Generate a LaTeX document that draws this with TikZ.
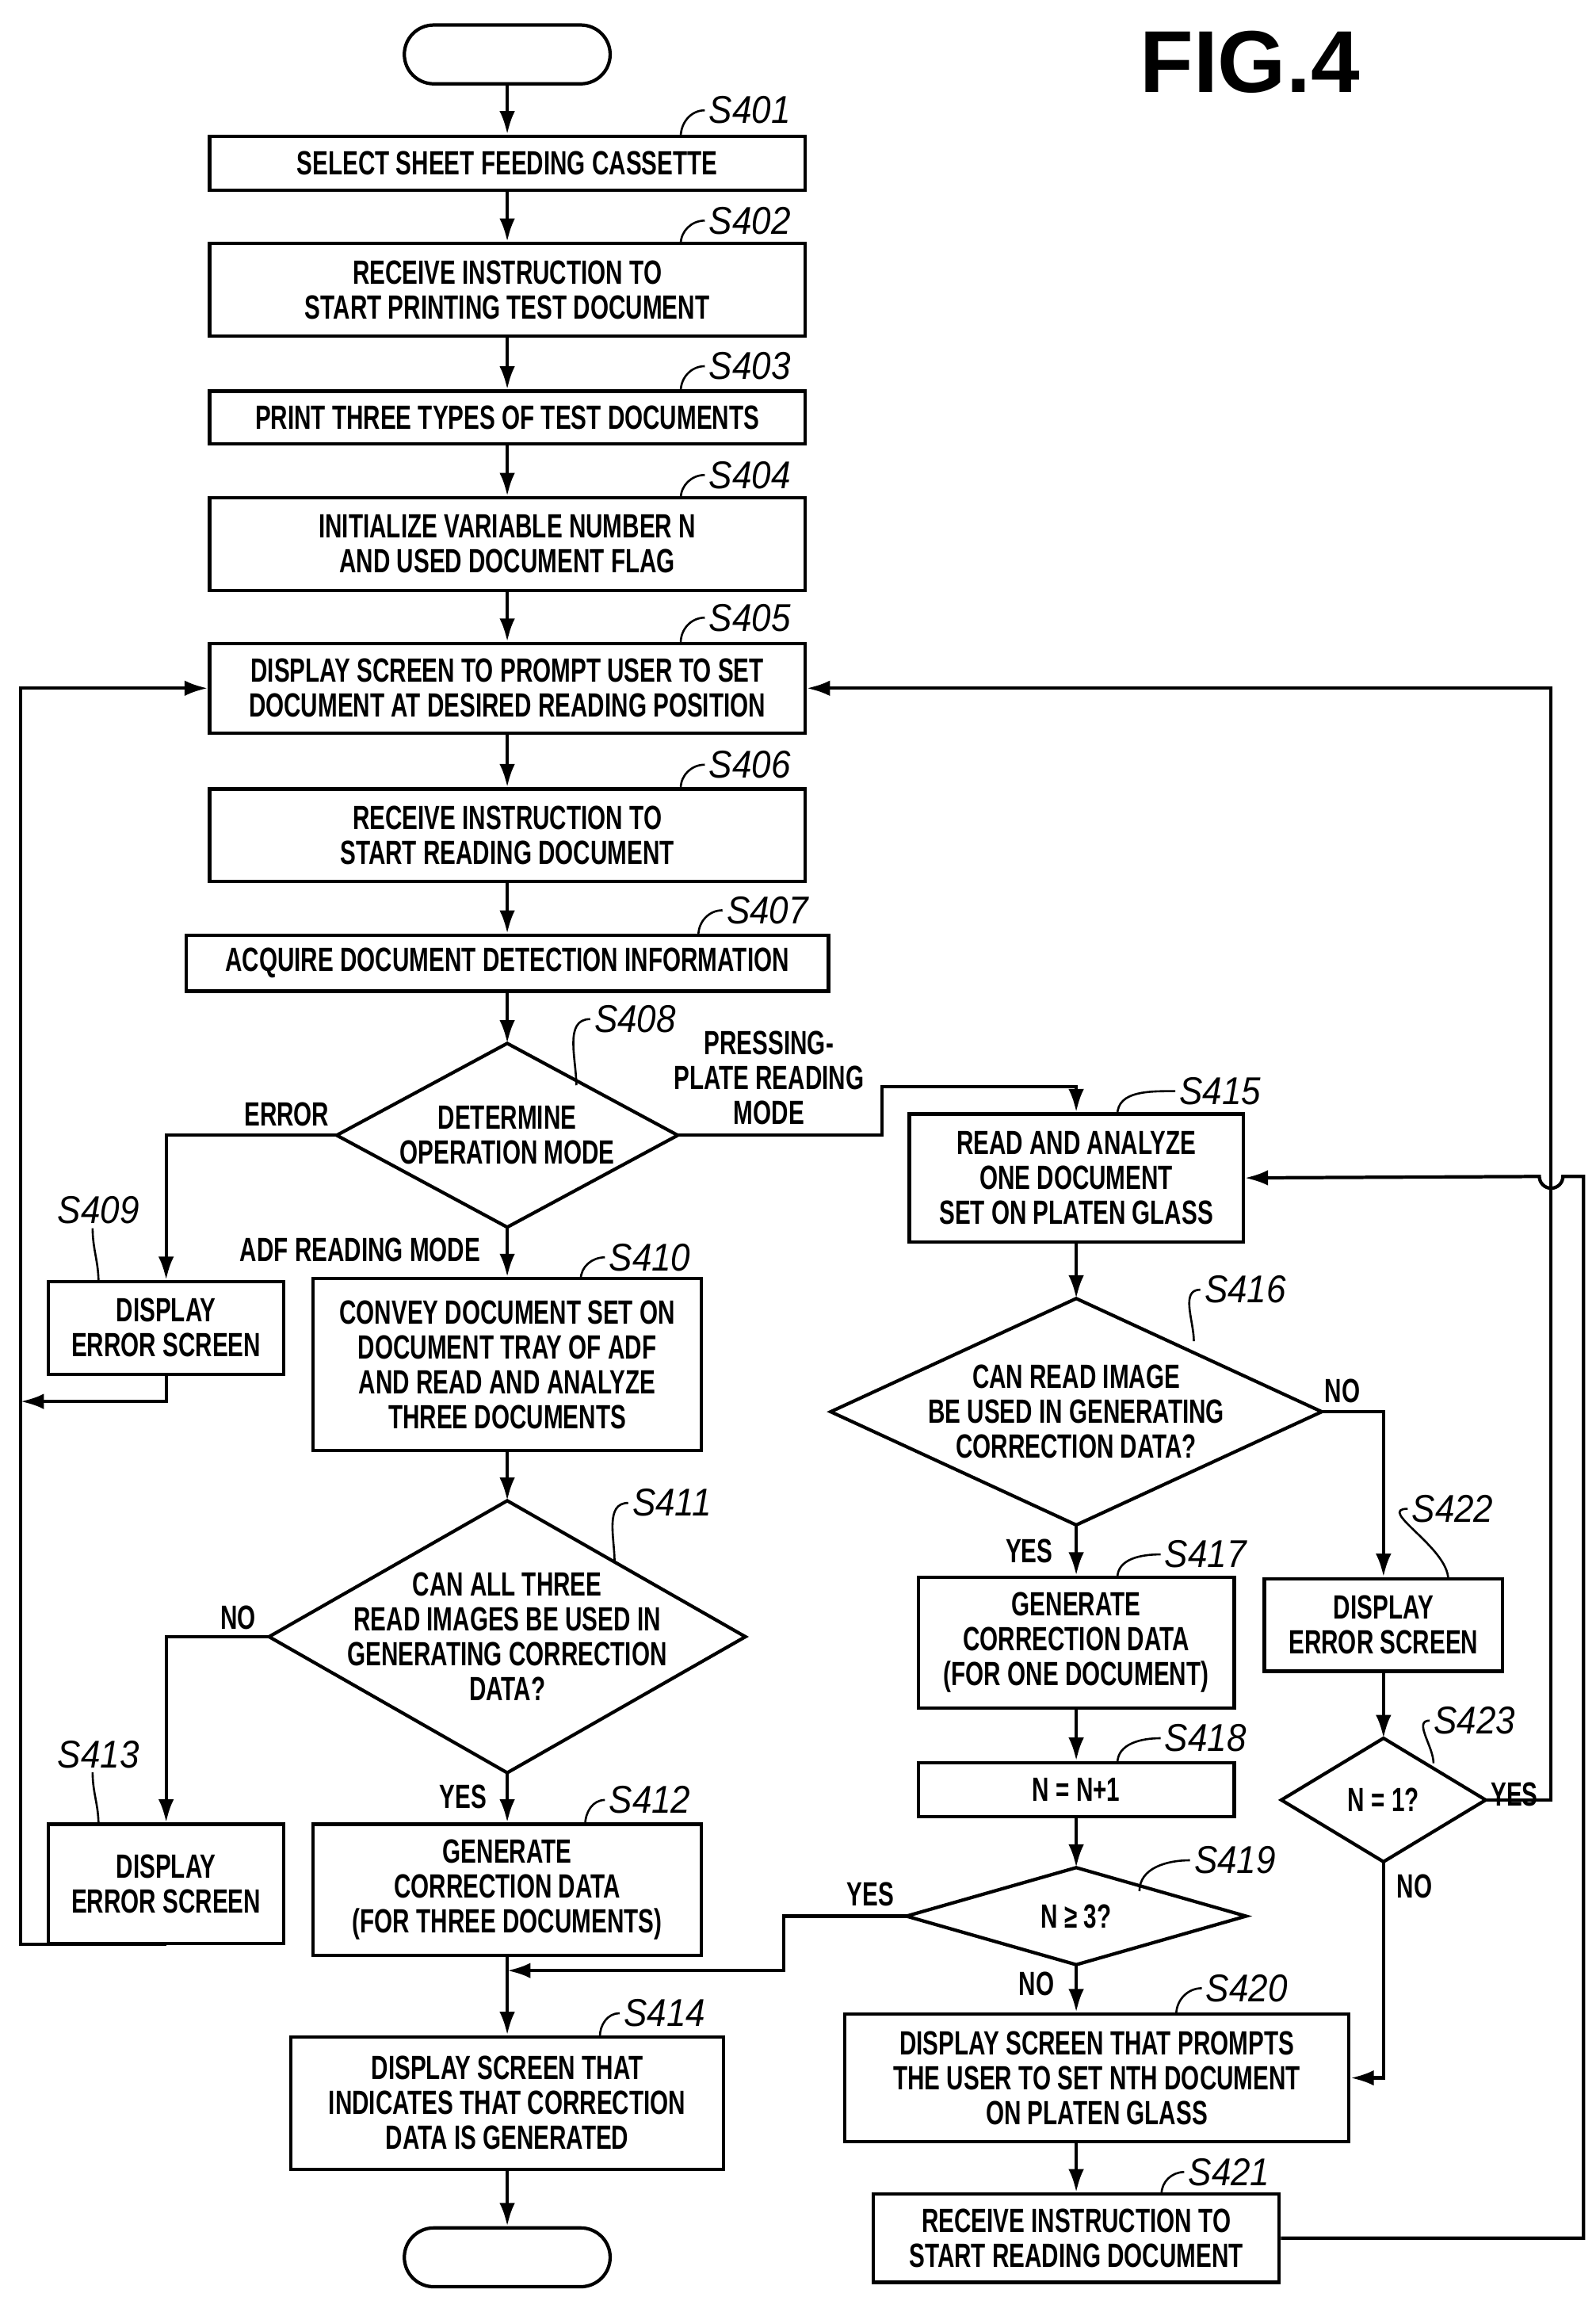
\documentclass[tikz,border=0pt]{standalone}
\usepackage{fontspec}
\usetikzlibrary{arrows.meta}
\setmainfont{Liberation Sans}
\newfontfamily\boxfont[FakeStretch=0.7]{Liberation Sans}
\newfontfamily\lblfont[FakeStretch=0.9]{Liberation Sans}
\begin{document}
\begin{tikzpicture}[x=0.02cm,y=-0.02cm,line width=1.3pt,
  box/.style={draw,inner sep=0pt,align=center,font=\boxfont\bfseries\fontsize{13}{13.5}\selectfont},
  txt/.style={inner sep=0pt,align=center,font=\boxfont\bfseries\fontsize{13}{13.5}\selectfont},
  lbl/.style={inner sep=1pt,font=\lblfont\itshape\fontsize{15}{15}\selectfont},
  arr/.style={-{Latex[length=9pt,width=6pt]}}]
\useasboundingbox (0,0) rectangle (1085,1562);
\newcommand\bx[6]{\node[box,minimum width=#4*0.02cm,minimum height=#5*0.02cm] (#1) at (#2,#3) {#6};}
\newcommand\dm[6]{\draw (#2-#4/2,#3) coordinate (#1W) -- (#2,#3-#5/2) coordinate (#1N) -- (#2+#4/2,#3) coordinate (#1E) -- (#2,#3+#5/2) coordinate (#1S) -- cycle; \node[txt] (#1) at (#2,#3) {#6};}
\newcommand\lb[5]{\node[lbl] (#1) at (#2,#3) {#1}; \draw[line width=0.8pt] (#4,#5) to[out=90,in=180] (#1.west);}
\node[font=\bfseries\fontsize{34}{34}\selectfont] at (850,42) {FIG.4};
\node[draw,rounded corners=20*0.02cm,minimum width=140*0.02cm,minimum height=40*0.02cm] (st) at (345,37) {};
\node[draw,rounded corners=20*0.02cm,minimum width=140*0.02cm,minimum height=40*0.02cm] (en) at (345,1535) {};
\bx{s401}{345}{111}{405}{37}{SELECT SHEET FEEDING CASSETTE}
\bx{s402}{345}{197}{405}{63}{RECEIVE INSTRUCTION TO\\START PRINTING TEST DOCUMENT}
\bx{s403}{345}{284}{405}{36}{PRINT THREE TYPES OF TEST DOCUMENTS}
\bx{s404}{345}{370}{405}{63}{INITIALIZE VARIABLE NUMBER N\\AND USED DOCUMENT FLAG}
\bx{s405}{345}{468}{405}{61}{DISPLAY SCREEN TO PROMPT USER TO SET\\DOCUMENT AT DESIRED READING POSITION}
\bx{s406}{345}{568}{405}{63}{RECEIVE INSTRUCTION TO\\START READING DOCUMENT}
\bx{s407}{345}{655}{437}{38}{ACQUIRE DOCUMENT DETECTION INFORMATION}
\dm{s408}{345}{772}{232}{125}{DETERMINE\\OPERATION MODE}
\bx{s409}{113}{903}{160}{63}{DISPLAY\\ERROR SCREEN}
\bx{s410}{345}{928}{264}{117}{CONVEY DOCUMENT SET ON\\DOCUMENT TRAY OF ADF\\AND READ AND ANALYZE\\THREE DOCUMENTS}
\dm{s411}{345}{1113}{324}{185}{CAN ALL THREE\\READ IMAGES BE USED IN\\GENERATING CORRECTION\\DATA?}
\bx{s412}{345}{1285}{264}{89}{GENERATE\\CORRECTION DATA\\(FOR THREE DOCUMENTS)}
\bx{s413}{113}{1281}{160}{81}{DISPLAY\\ERROR SCREEN}
\bx{s414}{345}{1430}{294}{90}{DISPLAY SCREEN THAT\\INDICATES THAT CORRECTION\\DATA IS GENERATED}
\bx{s415}{732}{801}{227}{87}{READ AND ANALYZE\\ONE DOCUMENT\\SET ON PLATEN GLASS}
\dm{s416}{732}{960}{334}{154}{CAN READ IMAGE\\BE USED IN GENERATING\\CORRECTION DATA?}
\bx{s417}{732}{1117}{215}{89}{GENERATE\\CORRECTION DATA\\(FOR ONE DOCUMENT)}
\bx{s418}{732}{1217}{215}{37}{N = N+1}
\dm{s419}{732}{1303}{231}{66}{N ≥ 3?}
\bx{s420}{746}{1413}{343}{87}{DISPLAY SCREEN THAT PROMPTS\\THE USER TO SET NTH DOCUMENT\\ON PLATEN GLASS}
\bx{s421}{732}{1522}{276}{60}{RECEIVE INSTRUCTION TO\\START READING DOCUMENT}
\bx{s422}{941}{1105}{162}{63}{DISPLAY\\ERROR SCREEN}
\dm{s423}{941}{1224}{139}{84}{N = 1?}
% labels
\lb{S401}{510}{75}{463}{93}
\lb{S402}{510}{150}{463}{166}
\lb{S403}{510}{249}{463}{266}
\lb{S404}{510}{323}{463}{339}
\lb{S405}{510}{420}{463}{437}
\lb{S406}{510}{520}{463}{536}
\lb{S407}{522}{619}{475}{636}
\lb{S408}{432}{693}{392}{738}
\lb{S410}{442}{855}{395}{870}
\lb{S411}{457}{1022}{418}{1062}
\lb{S412}{442}{1224}{398}{1241}
\lb{S414}{452}{1369}{408}{1385}
\lb{S415}{830}{742}{760}{758}
\lb{S416}{847}{877}{812}{912}
\lb{S417}{820}{1057}{760}{1073}
\lb{S418}{820}{1182}{760}{1199}
\lb{S419}{840}{1265}{775}{1286}
\lb{S420}{848}{1352}{800}{1370}
\lb{S421}{836}{1477}{790}{1492}
\lb{S422}{988}{1026}{985}{1074}
\lb{S423}{1003}{1170}{975}{1199}
\node[lbl] (S409) at (67,823) {S409}; \draw[line width=0.8pt] (S409.south) ++(-4,0) to[out=-90,in=90] (67,872);
\node[lbl] (S413) at (67,1193) {S413}; \draw[line width=0.8pt] (S413.south) ++(-4,0) to[out=-90,in=90] (67,1241);
% connectors
\draw[arr] (st) -- (s401);
\draw[arr] (s401) -- (s402);
\draw[arr] (s402) -- (s403);
\draw[arr] (s403) -- (s404);
\draw[arr] (s404) -- (s405);
\draw[arr] (s405) -- (s406);
\draw[arr] (s406) -- (s407);
\draw[arr] (s407) -- (s408N);
\draw[arr] (s408W) -| (s409);
\node[txt] at (195,758) {ERROR};
\draw[arr] (s408E) -- (600,772) -- (600,739) -| (s415);
\node[txt] at (523,733) {PRESSING-\\PLATE READING\\MODE};
\draw[arr] (s408S) -- (s410);
\node[txt] at (245,850) {ADF READING MODE};
\draw[arr] (s410) -- (s411N);
\draw[arr] (s411W) -| (s413);
\node[txt] at (162,1100) {NO};
\draw[arr] (s411S) -- (s412);
\node[txt] at (315,1222) {YES};
\draw[arr] (s412) -- (s414);
\draw[arr] (s414) -- (en);
\draw[arr] (s409.south) -- (113,953) -- (14,953);
\draw[arr] (s413.south) -- (113,1322) -- (14,1322) -- (14,468) -- (s405.west);
\draw[arr] (s415) -- (s416N);
\draw[arr] (s416E) -| (s422);
\node[txt] at (913,946) {NO};
\draw[arr] (s416S) -- (s417);
\node[txt] at (700,1055) {YES};
\draw[arr] (s417) -- (s418);
\draw[arr] (s418) -- (s419N);
\draw[arr] (s419W) -- (533,1303) -- (533,1340) -- (345,1340);
\node[txt] at (592,1288) {YES};
\draw[arr] (s419S) -- (s420.north -| s419S);
\node[txt] at (705,1349) {NO};
\draw[arr] (s420.south -| s421) -- (s421);
\draw[arr] (s422) -- (s423N);
\draw[arr] (s423E) -- (1055,1224) -- (1055,468) -- (s405.east);
\node[txt] at (1030,1220) {YES};
\draw[arr] (s423S) -- (941,1413) -- (s420.east);
\node[txt] at (962,1283) {NO};
\draw[arr] (s421.east) -- (1077,1522) -- (1077,800) -- (1063,800) arc (0:180:8) -- (s415.east);
\end{tikzpicture}
\end{document}
